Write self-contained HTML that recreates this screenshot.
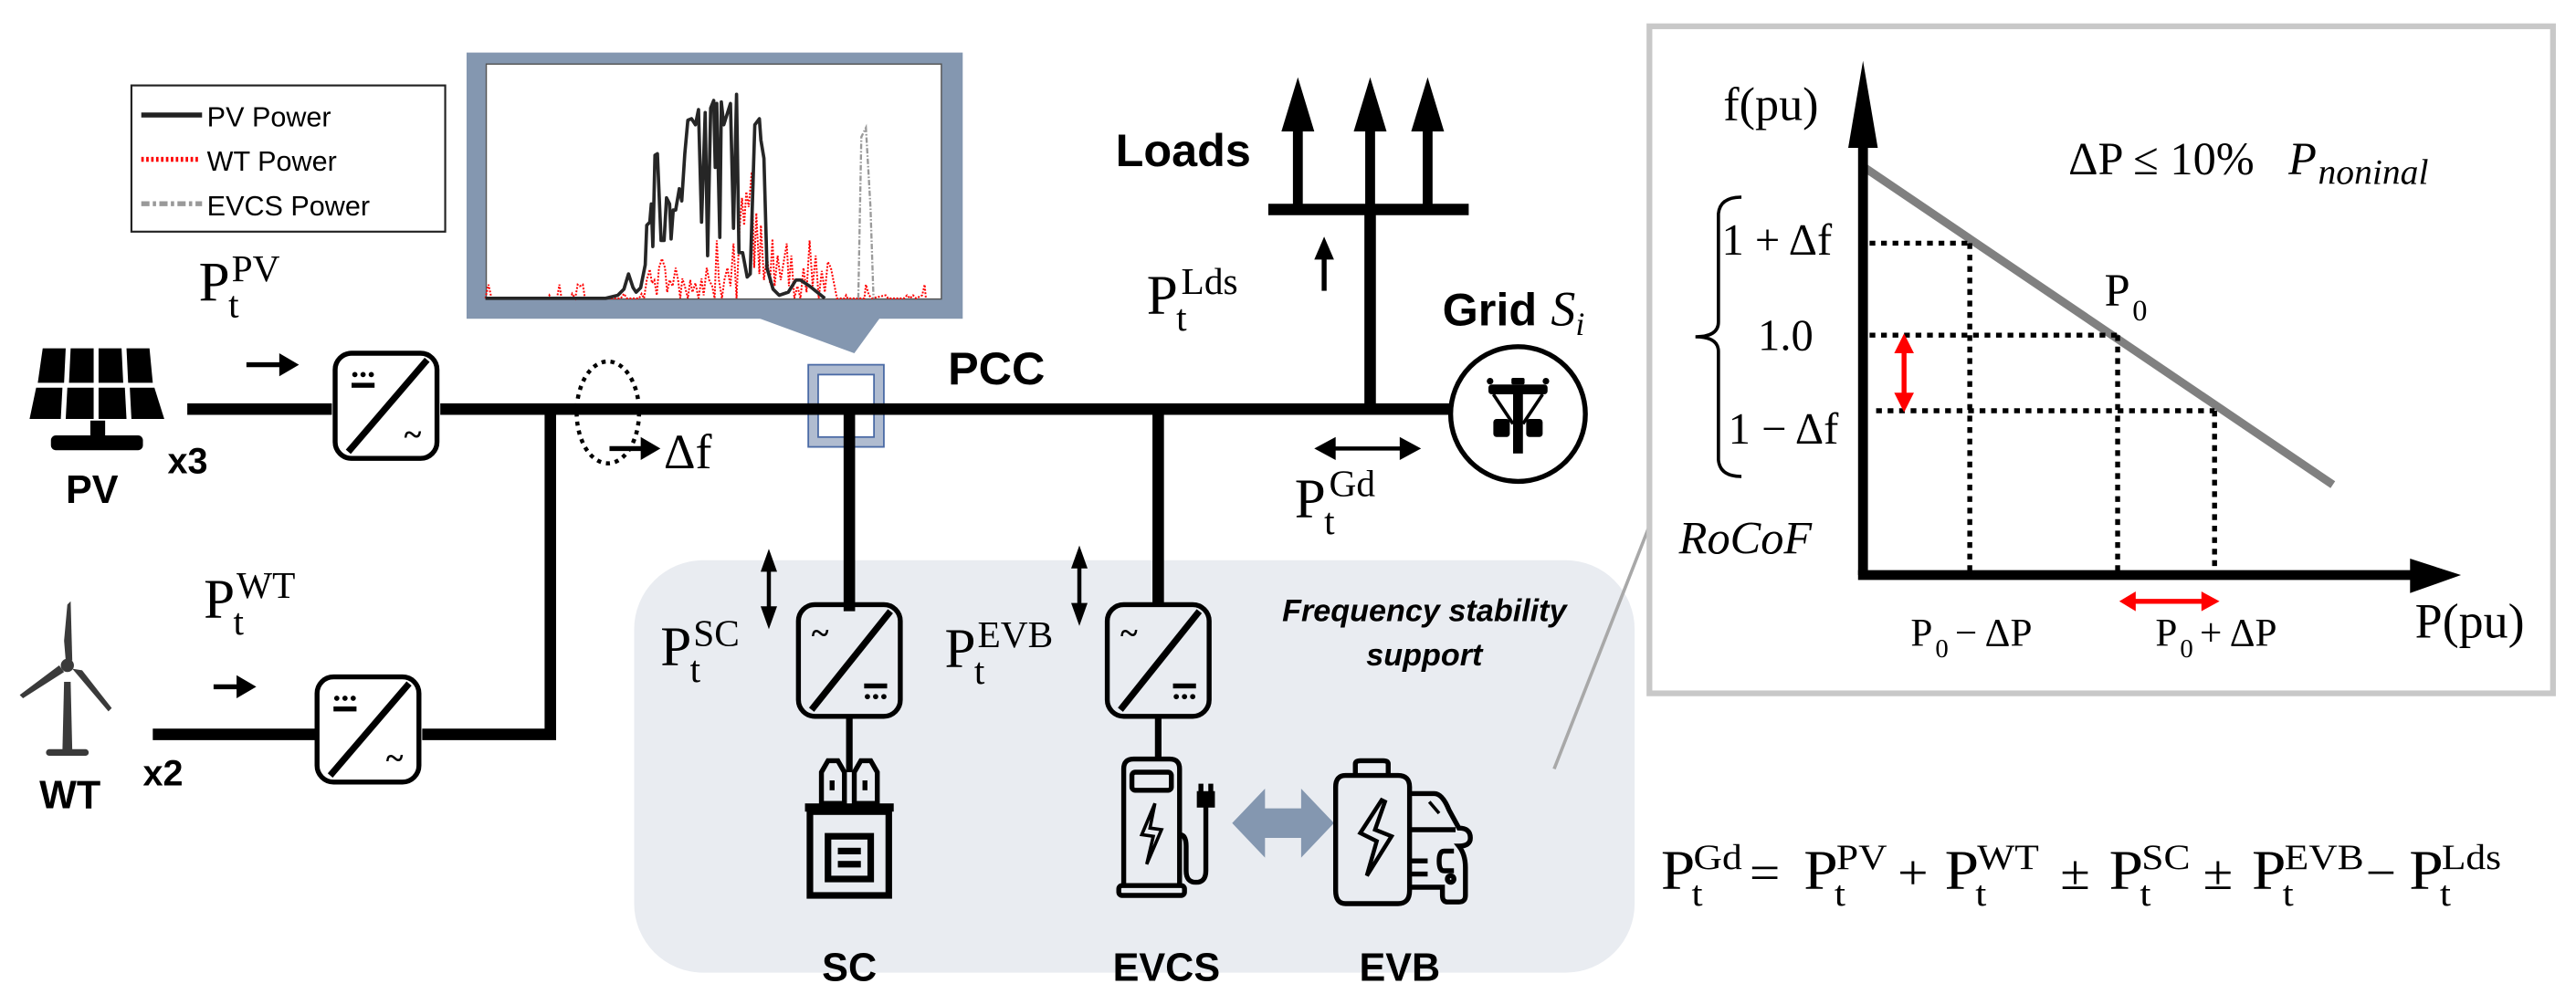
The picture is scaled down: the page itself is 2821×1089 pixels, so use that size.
<!DOCTYPE html>
<html><head><meta charset="utf-8"><style>
html,body{margin:0;padding:0;background:#fff;}
svg{display:block;}
.b{font-family:"Liberation Sans",sans-serif;font-weight:bold;}
.s{font-family:"Liberation Serif",serif;}
</style></head><body>
<svg width="2821" height="1089" viewBox="0 0 1568 605" preserveAspectRatio="none" xmlns="http://www.w3.org/2000/svg">
<defs>
<g id="convDA">
<rect x="2" y="2" width="62" height="64" rx="10" fill="none" stroke="#000" stroke-width="3"/>
<line x1="10" y1="62" x2="58" y2="6" stroke="#000" stroke-width="4"/>
<circle cx="14" cy="15" r="1.6"/><circle cx="19" cy="15" r="1.6"/><circle cx="24" cy="15" r="1.6"/>
<rect x="12" y="20" width="14" height="3"/>
<text x="44" y="58" class="s" font-size="20" font-weight="bold">~</text>
</g>
<g id="convAD">
<rect x="2" y="2" width="62" height="68" rx="10" fill="none" stroke="#000" stroke-width="3"/>
<line x1="10" y1="66" x2="58" y2="6" stroke="#000" stroke-width="4"/>
<text x="10" y="26" class="s" font-size="20" font-weight="bold">~</text>
<rect x="42" y="50" width="14" height="3"/>
<circle cx="44" cy="58" r="1.6"/><circle cx="49" cy="58" r="1.6"/><circle cx="54" cy="58" r="1.6"/>
</g>
</defs>

<rect x="386" y="341" width="609" height="251" rx="42" fill="#e9ecf1"/>
<line x1="946" y1="468" x2="1004" y2="320" stroke="#a8a8a8" stroke-width="2"/>

<rect x="80" y="52" width="191" height="89" fill="#fff" stroke="#222" stroke-width="1.2"/>
<line x1="86" y1="70" x2="123" y2="70" stroke="#222" stroke-width="3"/>
<line x1="86" y1="97" x2="122" y2="97" stroke="#f00" stroke-width="3" stroke-dasharray="1.5,1.5"/>
<line x1="86" y1="124" x2="123" y2="124" stroke="#999" stroke-width="3" stroke-dasharray="5,2,2,2"/>
<g font-family="Liberation Sans,sans-serif" font-size="17" fill="#000">
<text x="126" y="77">PV Power</text>
<text x="126" y="104">WT Power</text>
<text x="126" y="131">EVCS Power</text>
</g>

<rect x="284" y="32" width="302" height="162" fill="#8497b0"/>
<polygon points="460,193 536,193 520,215" fill="#8497b0"/>
<rect x="296" y="39" width="277" height="143" fill="#fff" stroke="#555" stroke-width="0.8"/>
<g transform="translate(289,33.35) scale(0.18527)">
<polyline fill="none" stroke="#f00" stroke-width="6" stroke-dasharray="6,5" points="35,800 45,755 55,800 240,800 245,790 250,800 270,800 278,755 285,800 315,800 320,785 330,800 338,755 345,760 355,755 362,800 480,800 490,785 500,800 540,800 548,785 556,800 565,740 575,705 582,750 590,740 598,790 605,700 615,670 625,700 632,780 640,740 650,760 660,700 668,740 675,800 682,735 690,760 700,800 708,740 715,780 725,750 735,800 745,735 752,790 762,700 770,740 780,760 788,800 795,610 802,740 812,800 820,740 830,700 840,760 850,620 860,800 870,570 878,470 885,560 892,450 900,500 910,385 918,700 925,520 935,720 940,560 950,740 960,660 970,750 978,605 985,760 995,660 1005,740 1015,680 1025,620 1032,760 1040,660 1050,800 1060,760 1070,800 1080,700 1090,780 1100,610 1110,760 1120,660 1130,800 1140,710 1150,780 1160,680 1170,700 1180,750 1190,800 1215,800 1220,790 1225,800 1280,800 1285,755 1295,790 1305,800 1350,790 1358,800 1410,800 1420,790 1430,800 1440,790 1450,800 1470,790 1478,755 1482,800"/>
<polyline fill="none" stroke="#262626" stroke-width="11" stroke-linejoin="round" points="35,800 430,800 470,790 490,770 505,720 520,765 530,780 545,765 560,690 565,560 575,550 580,490 585,630 592,330 600,325 612,610 622,610 630,470 640,490 645,605 652,510 660,510 672,440 680,480 690,325 700,215 712,210 725,230 735,180 745,550 757,190 765,660 775,175 785,150 790,370 795,160 805,600 810,155 818,230 840,160 850,570 860,130 868,650 880,650 895,730 905,720 920,230 935,210 940,280 950,340 960,700 980,770 1000,790 1030,780 1055,740 1070,740 1100,760 1150,800"/>
<polyline fill="none" stroke="#9a9a9a" stroke-width="7" stroke-dasharray="18,6,5,6" points="1260,800 1270,270 1285,240 1300,500 1310,800"/>
</g>

<g fill="#000">
<polygon points="26,212 40,212 39,233 23,233"/>
<polygon points="43,212 57,212 57,233 42,233"/>
<polygon points="60,212 74,212 75,233 60,233"/>
<polygon points="77,212 91,212 93,233 78,233"/>
<polygon points="22,236 38,236 37,255 18,255"/>
<polygon points="41,236 57,236 57,255 40,255"/>
<polygon points="60,236 76,236 77,255 60,255"/>
<polygon points="79,236 94,236 100,255 80,255"/>
<rect x="55" y="256" width="9" height="10"/>
<rect x="31" y="265" width="56" height="9" rx="3"/>
</g>
<text x="40" y="306" class="b" font-size="24">PV</text>
<text x="102" y="288" class="b" font-size="22">x3</text>

<text x="121" y="183" class="s" font-size="34">P</text>
<text x="139" y="193" class="s" font-size="23">t</text>
<text x="141" y="171" class="s" font-size="23">PV</text>
<line x1="150" y1="222" x2="172" y2="222" stroke="#000" stroke-width="3"/>
<polygon points="170,215 182,222 170,229"/>

<rect x="492" y="222" width="46" height="50" fill="#b0bcd0" stroke="#4a6aa5" stroke-width="1"/>
<rect x="498" y="228" width="34" height="38" fill="#fff" stroke="#4a6aa5" stroke-width="1"/>

<g stroke="#000" stroke-width="7" fill="none">
<line x1="114" y1="249" x2="202" y2="249"/>
<line x1="268" y1="249" x2="884" y2="249"/>
<polyline points="257,447 335,447 335,249"/>
<line x1="93" y1="447" x2="192" y2="447"/>
<line x1="517" y1="249" x2="517" y2="372"/>
<line x1="705" y1="249" x2="705" y2="368"/>
<line x1="834" y1="249" x2="834" y2="128"/>
<line x1="772" y1="127.5" x2="894" y2="127.5"/>
</g>
<g stroke="#000" stroke-width="4">
<line x1="517" y1="436" x2="517" y2="470"/>
<line x1="705" y1="437" x2="705" y2="462"/>
</g>
<text x="577" y="234" class="b" font-size="28">PCC</text>

<use href="#convDA" transform="translate(202,213)"/>
<use href="#convDA" transform="translate(191,410)"/>
<use href="#convAD" transform="translate(484,366)"/>
<use href="#convAD" transform="translate(672,366)"/>

<ellipse cx="370" cy="251" rx="19" ry="31" fill="none" stroke="#000" stroke-width="2.5" stroke-dasharray="2.5,3"/>
<line x1="371" y1="273" x2="392" y2="273" stroke="#000" stroke-width="3"/>
<polygon points="390,266 402,273 390,280"/>
<text x="404" y="285" class="s" font-size="30">Δf</text>

<text x="679" y="101" class="b" font-size="28">Loads</text>
<g fill="#000">
<rect x="787" y="78" width="6" height="48"/>
<polygon points="780,80 800,80 790,47"/>
<rect x="831" y="78" width="6" height="48"/>
<polygon points="824,80 844,80 834,47"/>
<rect x="866" y="78" width="6" height="48"/>
<polygon points="859,80 879,80 869,47"/>
</g>
<text x="698" y="191" class="s" font-size="34">P</text>
<text x="716" y="201" class="s" font-size="23">t</text>
<text x="719" y="179" class="s" font-size="23">Lds</text>
<line x1="806" y1="177" x2="806" y2="156" stroke="#000" stroke-width="3"/>
<polygon points="800,158 812,158 806,144"/>

<text x="878" y="198" class="b" font-size="28">Grid</text>
<text x="944" y="198" class="s" font-size="30" font-style="italic">S</text>
<text x="959" y="204" class="s" font-size="20" font-style="italic">i</text>
<circle cx="924" cy="252" r="41" fill="#fff" stroke="#000" stroke-width="3"/>
<g fill="#000">
<rect x="906" y="234" width="36" height="6" rx="2"/>
<rect x="920" y="230" width="8" height="4" rx="1"/>
<circle cx="907" cy="232" r="2"/><circle cx="941" cy="232" r="2"/>
<rect x="921" y="240" width="6" height="36"/>
<line x1="909" y1="240" x2="921" y2="258" stroke="#000" stroke-width="2"/>
<line x1="939" y1="240" x2="927" y2="258" stroke="#000" stroke-width="2"/>
<rect x="909" y="255" width="10" height="11" rx="2"/>
<rect x="929" y="255" width="10" height="11" rx="2"/>
</g>
<line x1="805" y1="273" x2="860" y2="273" stroke="#000" stroke-width="2.5"/>
<polygon points="800,273 813,266 813,280"/>
<polygon points="865,273 852,266 852,280"/>
<text x="788" y="315" class="s" font-size="34">P</text>
<text x="806" y="325" class="s" font-size="23">t</text>
<text x="809" y="302" class="s" font-size="23">Gd</text>

<g fill="#3a3a3a">
<polygon points="39,415 43,415 44,457 38,457"/>
<rect x="28" y="456" width="26" height="4" rx="2"/>
<polygon points="41,368 43,366 44,402 40,402 39,390"/>
<polygon points="39,409 14,425 12,423 36,405"/>
<polygon points="44,407 50,408 68,431 66,433"/>
<circle cx="41" cy="405" r="4"/>
</g>
<text x="24" y="492" class="b" font-size="24">WT</text>
<text x="87" y="478" class="b" font-size="22">x2</text>
<text x="124" y="376" class="s" font-size="34">P</text>
<text x="142" y="386" class="s" font-size="23">t</text>
<text x="144" y="364" class="s" font-size="23">WT</text>
<line x1="130" y1="418" x2="146" y2="418" stroke="#000" stroke-width="3"/>
<polygon points="144,411 156,418 144,425"/>

<text x="402" y="405" class="s" font-size="34">P</text>
<text x="420" y="415" class="s" font-size="23">t</text>
<text x="422" y="393" class="s" font-size="23">SC</text>
<line x1="468" y1="345" x2="468" y2="372" stroke="#000" stroke-width="2.5"/>
<polygon points="463,348 473,348 468,334"/>
<polygon points="463,369 473,369 468,383"/>
<text x="575" y="406" class="s" font-size="34">P</text>
<text x="593" y="416" class="s" font-size="23">t</text>
<text x="595" y="394" class="s" font-size="23">EVB</text>
<line x1="657" y1="343" x2="657" y2="370" stroke="#000" stroke-width="2.5"/>
<polygon points="652,346 662,346 657,332"/>
<polygon points="652,367 662,367 657,381"/>

<text x="867" y="378" class="b" font-size="19" font-style="italic" text-anchor="middle">Frequency stability</text>
<text x="867" y="405" class="b" font-size="19" font-style="italic" text-anchor="middle">support</text>

<g fill="#000">
<rect x="490" y="489" width="54" height="5"/>
<rect x="493" y="494" width="48" height="51" fill="none" stroke="#000" stroke-width="4"/>
<rect x="504" y="509" width="26" height="26" fill="none" stroke="#000" stroke-width="4"/>
<rect x="510" y="516" width="14" height="4"/><rect x="510" y="524" width="14" height="4"/>
<path d="M500,489 V470 L504,463 L510,463 L514,470 V489 Z M520,489 V470 L524,463 L530,463 L534,470 V489 Z" fill="none" stroke="#000" stroke-width="3"/>
<rect x="505" y="475" width="3" height="6"/><rect x="525" y="475" width="3" height="6"/>
</g>
<text x="517" y="597" class="b" font-size="24" text-anchor="middle">SC</text>

<g fill="none" stroke="#000" stroke-width="3">
<path d="M684,539 V468 Q684,462 690,462 H712 Q718,462 718,468 V539"/>
<rect x="681" y="539" width="40" height="6" rx="2"/>
<rect x="689" y="470" width="24" height="11" rx="2"/>
<path d="M703,489 L695,508 L702,509 L698,526 L707,505 L700,504 Z" stroke-width="2"/>
<path d="M718,508 Q722,508 722,515 V530 Q722,537 728,537 Q734,537 734,530 V490"/>
<path d="M730,483 H738 V490 H730 Z" fill="#000"/>
<line x1="731" y1="477" x2="731" y2="483"/><line x1="737" y1="477" x2="737" y2="483"/>
</g>
<text x="710" y="597" class="b" font-size="24" text-anchor="middle">EVCS</text>

<polygon points="750,501 770,480 770,492 792,492 792,480 812,501 792,522 792,510 770,510 770,522" fill="#8497b0"/>

<g fill="none" stroke="#000" stroke-width="3">
<path d="M858,542 Q858,550 851,550 H819 Q813,550 813,542 V479 Q813,472 819,472 H851 Q858,472 858,479 Z"/>
<path d="M825,472 V465 Q825,463 828,463 H842 Q845,463 845,465 V472"/>
<path d="M841,487 L828,507 L838,512 L832,533 L847,509 L837,505 L843,488 Z" stroke-width="2.5"/>
<path d="M858,483 H873 Q878,483 882,493 L888,504 Q895,504 895,510 Q895,515 888,515 Q892,520 892,528 V545 Q892,549 888,549 H881 Q878,549 878,545 V540 H858"/>
<line x1="858" y1="505" x2="886" y2="505"/>
<line x1="858" y1="524" x2="869" y2="524"/>
<line x1="857" y1="532" x2="869" y2="532"/>
<path d="M885,518 H879 Q876,518 876,524 Q876,530 879,530 H885"/>
<circle cx="883" cy="535" r="2"/>
<line x1="870" y1="488" x2="876" y2="495" stroke-width="2"/>
</g>
<text x="852" y="597" class="b" font-size="24" text-anchor="middle">EVB</text>

<rect x="1004" y="16" width="550" height="406" fill="#fff" stroke="#c8c8c8" stroke-width="3.5"/>
<line x1="1135" y1="102" x2="1420" y2="295" stroke="#808080" stroke-width="5"/>
<g stroke="#000" stroke-width="3" stroke-dasharray="3.5,3.5" fill="none">
<line x1="1138" y1="148" x2="1199" y2="148"/>
<line x1="1199" y1="148" x2="1199" y2="348"/>
<line x1="1138" y1="204" x2="1289" y2="204"/>
<line x1="1289" y1="204" x2="1289" y2="348"/>
<line x1="1142" y1="250" x2="1348" y2="250"/>
<line x1="1348" y1="250" x2="1348" y2="348"/>
</g>
<line x1="1134" y1="350" x2="1134" y2="60" stroke="#000" stroke-width="6"/>
<polygon points="1125,90 1143,90 1134,37"/>
<line x1="1131" y1="350" x2="1470" y2="350" stroke="#000" stroke-width="6"/>
<polygon points="1467,340 1467,361 1498,350"/>
<line x1="1159" y1="212" x2="1159" y2="242" stroke="#f00" stroke-width="3"/>
<polygon points="1153,215 1165,215 1159,203" fill="#f00"/>
<polygon points="1153,239 1165,239 1159,251" fill="#f00"/>
<line x1="1298" y1="366" x2="1342" y2="366" stroke="#f00" stroke-width="3"/>
<polygon points="1300,360 1300,372 1290,366" fill="#f00"/>
<polygon points="1340,360 1340,372 1351,366" fill="#f00"/>
<path d="M1060,120 Q1047,120 1046,130 V196 Q1046,205 1032,205 Q1046,205 1046,214 V280 Q1047,290 1060,290" fill="none" stroke="#000" stroke-width="2"/>
<g class="s" font-size="29" fill="#000">
<text x="1049" y="73">f(pu)</text>
<text x="1048" y="155" font-size="27">1 + Δf</text>
<text x="1070" y="213" font-size="27">1.0</text>
<text x="1052" y="270" font-size="27">1 − Δf</text>
<text x="1022" y="337" font-style="italic" font-size="28">RoCoF</text>
<text x="1281" y="186" font-size="28">P</text>
<text x="1298" y="195" font-size="18">0</text>
<text x="1259" y="106" font-size="28">ΔP ≤ 10%</text>
<text x="1393" y="106" font-size="28" font-style="italic">P</text>
<text x="1411" y="112" font-size="22" font-style="italic">noninal</text>
<text x="1470" y="388" font-size="30">P(pu)</text>
<text x="1163" y="393" font-size="24">P</text>
<text x="1178" y="400" font-size="16">0</text>
<text x="1190" y="393" font-size="24"> − ΔP</text>
<text x="1312" y="393" font-size="24">P</text>
<text x="1327" y="400" font-size="16">0</text>
<text x="1339" y="393" font-size="24"> + ΔP</text>
</g>

<g class="s" fill="#000" transform="translate(1011,0) scale(1.1,1) translate(-1011,0)">
<text x="1011" y="541" font-size="34">P</text><text x="1028" y="551" font-size="22">t</text><text x="1029" y="529" font-size="22">Gd</text>
<text x="1060" y="541" font-size="30">=</text>
<text x="1090" y="541" font-size="34">P</text><text x="1107" y="551" font-size="22">t</text><text x="1108" y="529" font-size="22">PV</text>
<text x="1142" y="541" font-size="30">+</text>
<text x="1168" y="541" font-size="34">P</text><text x="1185" y="551" font-size="22">t</text><text x="1186" y="529" font-size="22">WT</text>
<text x="1232" y="541" font-size="30">±</text>
<text x="1259" y="541" font-size="34">P</text><text x="1276" y="551" font-size="22">t</text><text x="1277" y="529" font-size="22">SC</text>
<text x="1311" y="541" font-size="30">±</text>
<text x="1338" y="541" font-size="34">P</text><text x="1355" y="551" font-size="22">t</text><text x="1356" y="529" font-size="22">EVB</text>
<text x="1401" y="541" font-size="30">−</text>
<text x="1425" y="541" font-size="34">P</text><text x="1442" y="551" font-size="22">t</text><text x="1443" y="529" font-size="22">Lds</text>
</g>
</svg>
</body></html>
